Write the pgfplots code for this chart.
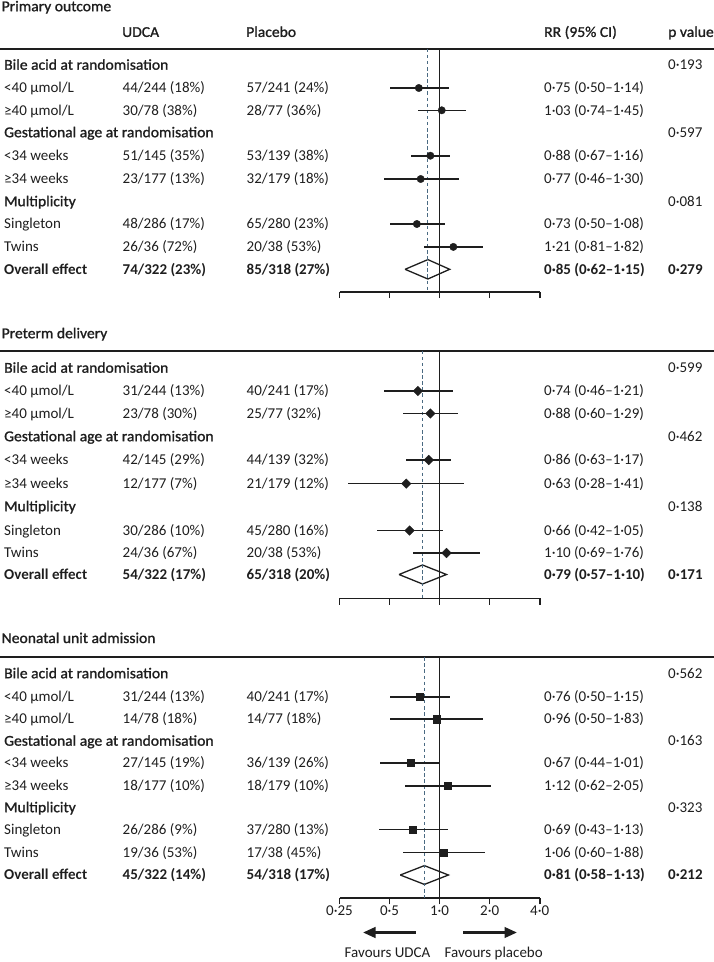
\documentclass[border=0pt]{standalone}
\usepackage{fontspec}
\setmainfont{Carlito}
\newfontfamily\semifont[FakeBold=1.2, FakeStretch=1.04]{Carlito}
\usepackage{pgfplots}
\pgfplotsset{compat=1.18}
\usepackage{pgfplotstable}
\usetikzlibrary{arrows.meta}

\definecolor{ink}{HTML}{1E1E1E}
\definecolor{dashc}{HTML}{4A6A82}
\newcommand\fs{\fontsize{15}{18}\selectfont}

% y = pixel row from top, rr, lower, upper
\pgfplotstableread{
y rr lo hi
88.0 0.75 0.50 1.14
110.3 1.03 0.74 1.45
155.7 0.88 0.67 1.16
179.0 0.77 0.46 1.30
224.0 0.73 0.50 1.08
246.9 1.21 0.81 1.82
}\primary
\pgfplotstableread{
y rr lo hi
391.0 0.74 0.46 1.21
413.5 0.88 0.60 1.29
460.0 0.86 0.63 1.17
483.6 0.63 0.28 1.41
530.5 0.66 0.42 1.05
553.0 1.10 0.69 1.76
}\preterm
\pgfplotstableread{
y rr lo hi
696.8 0.76 0.50 1.15
719.2 0.96 0.50 1.83
762.8 0.67 0.44 1.01
785.8 1.12 0.62 2.05
829.3 0.69 0.43 1.13
852.5 1.06 0.60 1.88
}\neonatal

\newcommand\txt[3]{\node[anchor=base west,inner sep=0pt,text=ink,font=\fs] at (#1pt,{-(#2+4.7)*1pt}) {#3};}
\newcommand\row[5]{\txt{4}{#1}{#2}\txt{122.5}{#1}{#3}\txt{246.5}{#1}{#4}\txt{544}{#1}{#5}}
\newcommand\grp[3]{\txt{4}{#1}{\semifont #2}\txt{668}{#1}{#3}}
\newcommand\ovr[5]{\txt{4}{#1}{\bfseries Overall effect}\txt{122.5}{#1}{\bfseries #2}\txt{246.5}{#1}{\bfseries #3}\txt{544}{#1}{\bfseries #4}\txt{668}{#1}{\bfseries #5}}

\begin{document}
\begin{tikzpicture}
\path[use as bounding box] (0,0) rectangle (714pt,-962pt);

% ---------------- Panel 1 ----------------
\txt{1.5}{6.5}{\semifont Primary outcome}
\txt{122}{32.2}{\semifont UDCA}
\txt{246}{32.2}{\semifont Placebo}
\txt{544}{32.2}{\semifont RR (95\% CI)}
\txt{668}{32.2}{\semifont p value}
\draw[ink, line width=1.7pt] (0,-48.7pt) -- (714pt,-48.7pt);
\grp{65}{Bile acid at randomisation}{0·193}
\row{88}{<40 μmol/L}{44/244 (18\%)}{57/241 (24\%)}{0·75 (0·50–1·14)}
\row{110.3}{≥40 μmol/L}{30/78 (38\%)}{28/77 (36\%)}{1·03 (0·74–1·45)}
\grp{132.5}{Gestational age at randomisation}{0·597}
\row{155.7}{<34 weeks}{51/145 (35\%)}{53/139 (38\%)}{0·88 (0·67–1·16)}
\row{179}{≥34 weeks}{23/177 (13\%)}{32/179 (18\%)}{0·77 (0·46–1·30)}
\grp{201.5}{Multiplicity}{0·081}
\row{224}{Singleton}{48/286 (17\%)}{65/280 (23\%)}{0·73 (0·50–1·08)}
\row{246.7}{Twins}{26/36 (72\%)}{20/38 (53\%)}{1·21 (0·81–1·82)}
\ovr{269.3}{74/322 (23\%)}{85/318 (27\%)}{0·85 (0·62–1·15)}{0·279}

\begin{axis}[at={(339.5pt,-291.7pt)}, anchor=south west, scale only axis,
    width=200.2pt, height=243pt, ymin=-291.7, ymax=-48.7,
    xmode=log, log basis x=2, xmin=0.25, xmax=4,
    axis x line*=bottom, axis y line=none,
    xtick={0.25,0.5,1,2,4}, xticklabels={,,,,}, xminorticks=false, ytick=\empty,
    tick align=outside, major tick length=6.5pt,
    tick style={color=ink, line width=1.6pt},
    axis line style={color=ink, line width=1.6pt}, clip=false]
\addplot[ink, line width=1.3pt, fill=white, line join=miter] coordinates {(0.62,-269.3) (0.85,-259.6) (1.15,-269.3) (0.85,-279.0) (0.62,-269.3)};
\addplot[ink, line width=1.6pt] coordinates {(1,-48.7) (1,-291.7)};
\addplot[dashc, line width=1.1pt, dash pattern=on 3.5pt off 2.6pt] coordinates {(0.85,-48.7) (0.85,-291.7)};
\addplot[only marks, ink, mark=*, mark size=3.7pt,
  error bars/.cd, x dir=both, x explicit, error mark=none, error bar style={line width=1.6pt, color=ink}]
  table[x=rr, y expr=-\thisrow{y},
  x error plus expr=\thisrow{hi}-\thisrow{rr}, x error minus expr=\thisrow{rr}-\thisrow{lo}] {\primary};
\end{axis}

% ---------------- Panel 2 ----------------
\txt{1.5}{333.5}{\semifont Preterm delivery}
\draw[ink, line width=1.7pt] (0,-350.7pt) -- (714pt,-350.7pt);
\grp{368}{Bile acid at randomisation}{0·599}
\row{391}{<40 μmol/L}{31/244 (13\%)}{40/241 (17\%)}{0·74 (0·46–1·21)}
\row{413.5}{≥40 μmol/L}{23/78 (30\%)}{25/77 (32\%)}{0·88 (0·60–1·29)}
\grp{436.5}{Gestational age at randomisation}{0·462}
\row{460}{<34 weeks}{42/145 (29\%)}{44/139 (32\%)}{0·86 (0·63–1·17)}
\row{483.5}{≥34 weeks}{12/177 (7\%)}{21/179 (12\%)}{0·63 (0·28–1·41)}
\grp{506.5}{Multiplicity}{0·138}
\row{530.5}{Singleton}{30/286 (10\%)}{45/280 (16\%)}{0·66 (0·42–1·05)}
\row{553}{Twins}{24/36 (67\%)}{20/38 (53\%)}{1·10 (0·69–1·76)}
\ovr{574.5}{54/322 (17\%)}{65/318 (20\%)}{0·79 (0·57–1·10)}{0·171}

\begin{axis}[at={(339.5pt,-598.3pt)}, anchor=south west, scale only axis,
    width=200.2pt, height=247.6pt, ymin=-598.3, ymax=-350.7,
    xmode=log, log basis x=2, xmin=0.25, xmax=4,
    axis x line*=bottom, axis y line=none,
    xtick={0.25,0.5,1,2,4}, xticklabels={,,,,}, xminorticks=false, ytick=\empty,
    tick align=outside, major tick length=6.5pt,
    tick style={color=ink, line width=1.6pt},
    axis line style={color=ink, line width=1.6pt}, clip=false]
\addplot[ink, line width=1.3pt, fill=white, line join=miter] coordinates {(0.57,-574.5) (0.79,-565.0) (1.10,-574.5) (0.79,-584.0) (0.57,-574.5)};
\addplot[ink, line width=1.6pt] coordinates {(1,-350.7) (1,-598.3)};
\addplot[dashc, line width=1.1pt, dash pattern=on 3.5pt off 2.6pt] coordinates {(0.79,-350.7) (0.79,-598.3)};
\addplot[only marks, ink, mark=square*, mark size=3.4pt, mark options={rotate=45},
  error bars/.cd, x dir=both, x explicit, error mark=none, error bar style={line width=1.6pt, color=ink}]
  table[x=rr, y expr=-\thisrow{y},
  x error plus expr=\thisrow{hi}-\thisrow{rr}, x error minus expr=\thisrow{rr}-\thisrow{lo}] {\preterm};
\end{axis}

% ---------------- Panel 3 ----------------
\txt{1.5}{638.3}{\semifont Neonatal unit admission}
\draw[ink, line width=1.7pt] (0,-657.2pt) -- (714pt,-657.2pt);
\grp{673.5}{Bile acid at randomisation}{0·562}
\row{696.8}{<40 μmol/L}{31/244 (13\%)}{40/241 (17\%)}{0·76 (0·50–1·15)}
\row{719.2}{≥40 μmol/L}{14/78 (18\%)}{14/77 (18\%)}{0·96 (0·50–1·83)}
\grp{741}{Gestational age at randomisation}{0·163}
\row{762.8}{<34 weeks}{27/145 (19\%)}{36/139 (26\%)}{0·67 (0·44–1·01)}
\row{785.8}{≥34 weeks}{18/177 (10\%)}{18/179 (10\%)}{1·12 (0·62–2·05)}
\grp{807.5}{Multiplicity}{0·323}
\row{829.3}{Singleton}{26/286 (9\%)}{37/280 (13\%)}{0·69 (0·43–1·13)}
\row{852.5}{Twins}{19/36 (53\%)}{17/38 (45\%)}{1·06 (0·60–1·88)}
\ovr{875}{45/322 (14\%)}{54/318 (17\%)}{0·81 (0·58–1·13)}{0·212}

\begin{axis}[at={(339.5pt,-897.8pt)}, anchor=south west, scale only axis,
    width=200.2pt, height=240.6pt, ymin=-897.8, ymax=-657.2,
    xmode=log, log basis x=2, xmin=0.25, xmax=4,
    axis x line*=bottom, axis y line=none,
    xtick={0.25,0.5,1,2,4}, xticklabels={0·25,0·5,1·0,2·0,4·0}, xminorticks=false, ytick=\empty,
    xticklabel style={font=\fs, text=ink, inner sep=1pt},
    tick align=outside, major tick length=6.5pt,
    tick style={color=ink, line width=1.6pt},
    axis line style={color=ink, line width=1.6pt}, clip=false]
\addplot[ink, line width=1.3pt, fill=white, line join=miter] coordinates {(0.58,-875) (0.81,-865.6) (1.13,-875) (0.81,-884.4) (0.58,-875)};
\addplot[ink, line width=1.6pt] coordinates {(1,-657.2) (1,-897.8)};
\addplot[dashc, line width=1.1pt, dash pattern=on 3.5pt off 2.6pt] coordinates {(0.81,-657.2) (0.81,-897.8)};
\addplot[only marks, ink, mark=square*, mark size=3.6pt,
  error bars/.cd, x dir=both, x explicit, error mark=none, error bar style={line width=1.6pt, color=ink}]
  table[x=rr, y expr=-\thisrow{y},
  x error plus expr=\thisrow{hi}-\thisrow{rr}, x error minus expr=\thisrow{rr}-\thisrow{lo}] {\neonatal};
\end{axis}

\draw[ink, line width=2.6pt, -{Triangle[length=12.5pt,width=10.5pt]}] (415.7pt,-932.5pt) -- (363pt,-932.5pt);
\draw[ink, line width=2.6pt, -{Triangle[length=12.5pt,width=10.5pt]}] (463.3pt,-932.5pt) -- (517pt,-932.5pt);
\node[anchor=base,inner sep=0pt,text=ink,font=\fs] at (387.5pt,-957.5pt) {Favours UDCA};
\node[anchor=base,inner sep=0pt,text=ink,font=\fs] at (493.7pt,-957.5pt) {Favours placebo};
\end{tikzpicture}
\end{document}
